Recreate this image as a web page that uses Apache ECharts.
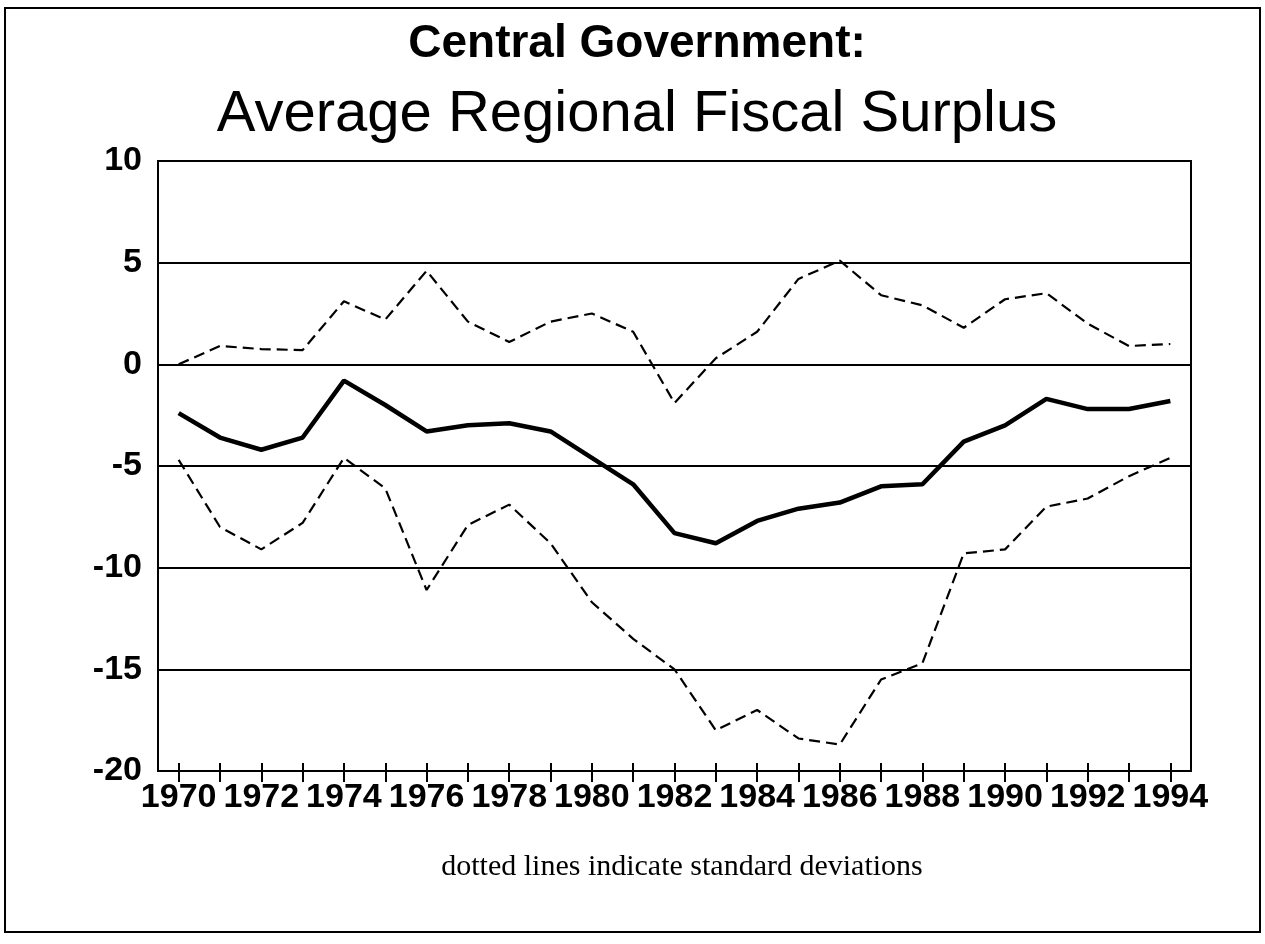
<!DOCTYPE html>
<html>
<head>
<meta charset="utf-8">
<script src="https://cdn.jsdelivr.net/npm/echarts@6/dist/echarts.min.js"></script>
<style>
  html, body { margin: 0; padding: 0; background: #fff; }
  #chart { width: 1265px; height: 944px; }
</style>
</head>
<body>
<div id="chart"></div>
<script>
const years = ['1970', '1971', '1972', '1973', '1974', '1975', '1976', '1977', '1978', '1979',
  '1980', '1981', '1982', '1983', '1984', '1985', '1986', '1987', '1988', '1989',
  '1990', '1991', '1992', '1993', '1994']

// average regional fiscal surplus
const mean = [-2.4, -3.6, -4.2, -3.6, -0.8, -2.0, -3.3, -3.0, -2.9, -3.3,
  -4.6, -5.9, -8.3, -8.8, -7.7, -7.1, -6.8, -6.0, -5.9, -3.8,
  -3.0, -1.7, -2.2, -2.2, -1.8]

// mean + one standard deviation
const upper = [0.0, 0.9, 0.75, 0.7, 3.1, 2.2, 4.6, 2.1, 1.1, 2.1,
  2.5, 1.6, -1.9, 0.3, 1.6, 4.2, 5.1, 3.4, 2.9, 1.8,
  3.2, 3.5, 2.0, 0.9, 1.0]

// mean - one standard deviation
const lower = [-4.7, -8.0, -9.1, -7.8, -4.6, -6.1, -11.1, -7.9, -6.9, -8.8,
  -11.7, -13.5, -15.0, -18.0, -17.0, -18.4, -18.7, -15.5, -14.7, -9.3,
  -9.1, -7.0, -6.6, -5.5, -4.6]

const yMin = -20
const yMax = 10
const yStep = 5

const ink = '#000'
const sans = '"Liberation Sans", Arial, sans-serif'

const chart = echarts.init(document.getElementById('chart'))

const dashed = (data) => ({
  type: 'line',
  data,
  xAxisIndex: 0,
  symbol: 'none',
  silent: true,
  lineStyle: { color: ink, width: 2.2, type: [11, 6] }
})

chart.setOption({
  animation: false,
  backgroundColor: '#fff',
  graphic: [
    {
      type: 'rect',
      shape: { x: 5, y: 8, width: 1255, height: 924 },
      style: { fill: 'none', stroke: ink, lineWidth: 2 }
    },
    {
      type: 'text',
      x: 637,
      y: 44,
      style: {
        text: 'Central Government:',
        font: 'bold 46px ' + sans,
        fill: ink,
        textAlign: 'center',
        textVerticalAlign: 'middle'
      }
    },
    {
      type: 'text',
      x: 637,
      y: 115,
      style: {
        text: 'Average Regional Fiscal Surplus',
        font: '58px ' + sans,
        fill: ink,
        textAlign: 'center',
        textVerticalAlign: 'middle'
      }
    },
    {
      type: 'text',
      x: 682,
      y: 867,
      style: {
        text: 'dotted lines indicate standard deviations',
        font: '30px "Liberation Serif", "Times New Roman", serif',
        fill: ink,
        textAlign: 'center',
        textVerticalAlign: 'middle'
      }
    }
  ],
  grid: {
    left: 158,
    right: 74,
    top: 161,
    bottom: 173,
    show: true,
    borderColor: ink,
    borderWidth: 2,
    containLabel: false
  },
  xAxis: [
    {
      type: 'category',
      data: years,
      position: 'bottom',
      boundaryGap: true,
      axisLine: { show: true, onZero: false, lineStyle: { color: ink, width: 2 } },
      axisTick: {
        show: true,
        alignWithLabel: true,
        interval: 0,
        length: 11,
        lineStyle: { color: ink, width: 2 }
      },
      axisLabel: {
        interval: 1,
        color: ink,
        fontFamily: sans,
        fontWeight: 'bold',
        fontSize: 34,
        margin: 10
      },
      splitLine: { show: false }
    },
    {
      // same line again, only for the upward half of the ticks
      type: 'category',
      data: years,
      position: 'bottom',
      boundaryGap: true,
      axisLine: { show: false, onZero: false },
      axisTick: {
        show: true,
        inside: true,
        alignWithLabel: true,
        interval: 0,
        length: 8,
        lineStyle: { color: ink, width: 2 }
      },
      axisLabel: { show: false },
      splitLine: { show: false }
    }
  ],
  yAxis: {
    type: 'value',
    min: yMin,
    max: yMax,
    interval: yStep,
    axisLine: { show: true, lineStyle: { color: ink, width: 2 } },
    axisTick: { show: false },
    axisLabel: {
      color: ink,
      fontFamily: sans,
      fontWeight: 'bold',
      fontSize: 34,
      margin: 16
    },
    splitLine: { lineStyle: { color: ink, width: 2 } }
  },
  series: [
    dashed(upper),
    dashed(lower),
    {
      type: 'line',
      data: mean,
      xAxisIndex: 0,
      symbol: 'none',
      silent: true,
      lineStyle: { color: ink, width: 4.5 }
    }
  ]
})

window.addEventListener('resize', () => {
  chart.resize()
})
</script>
</body>
</html>
